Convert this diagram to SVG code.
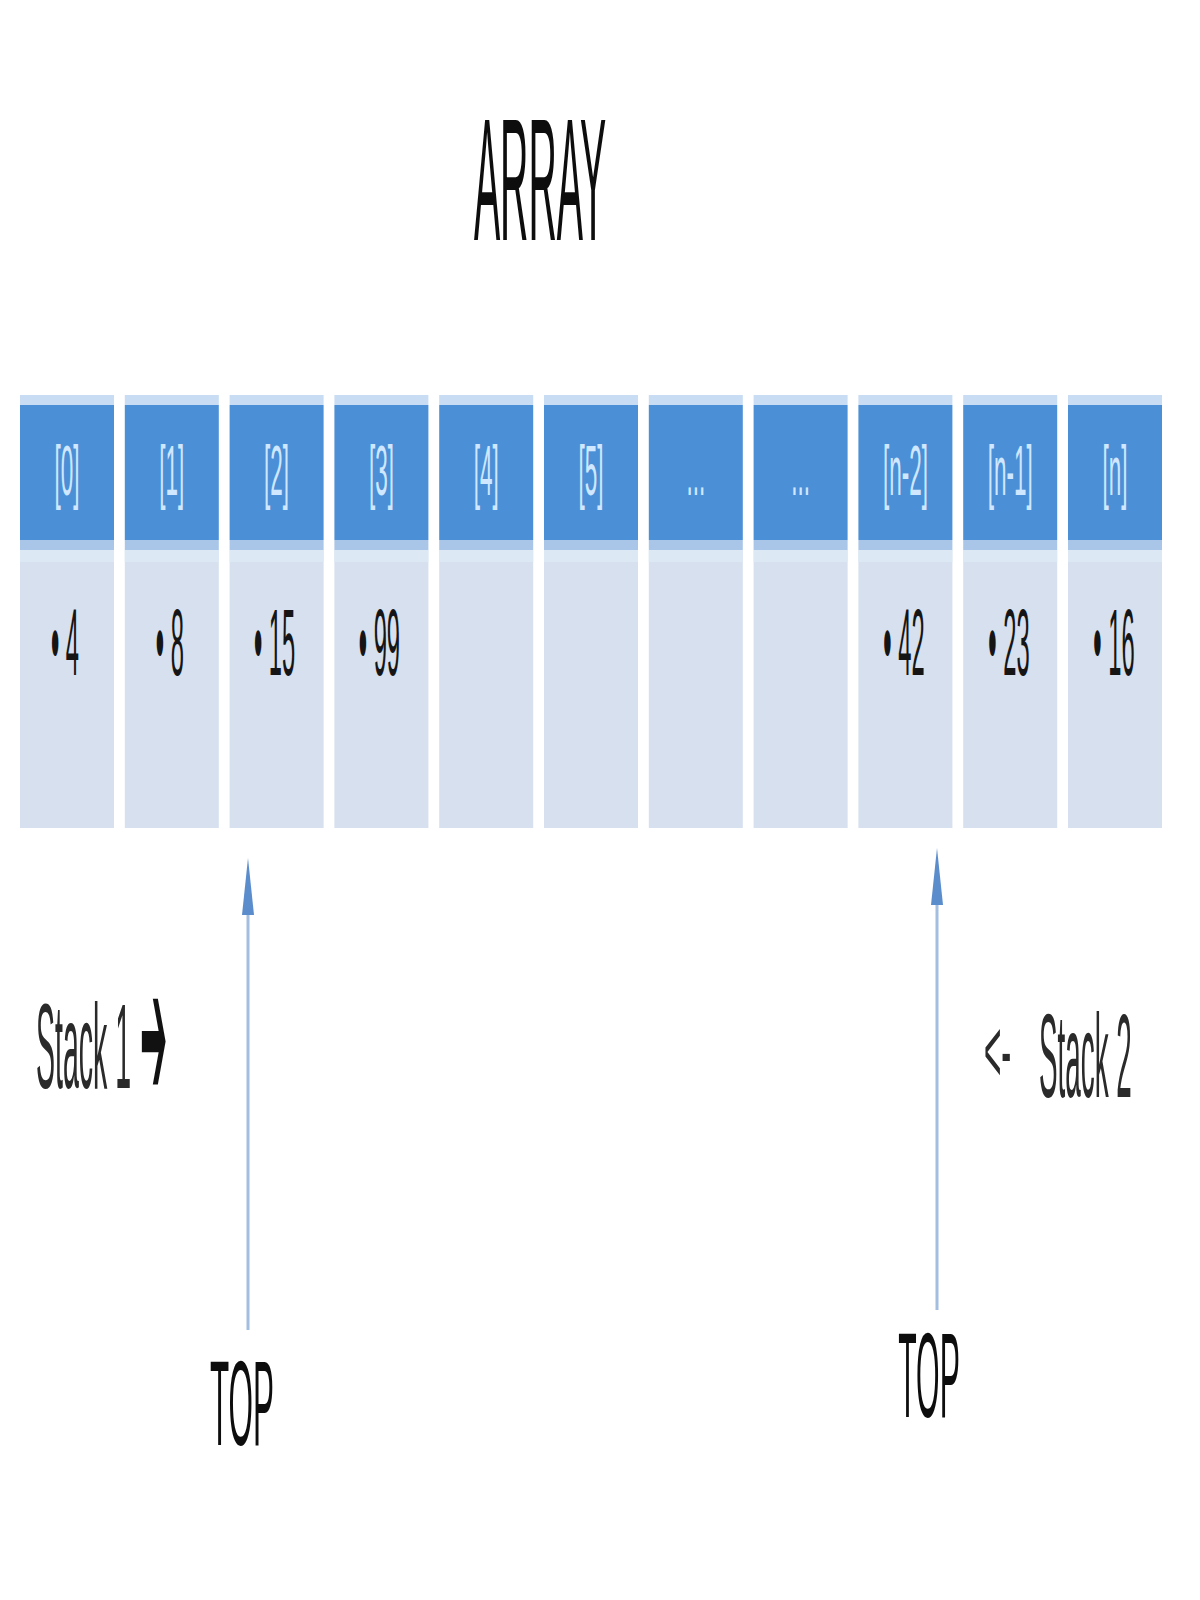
<svg xmlns="http://www.w3.org/2000/svg" width="1200" height="1600" viewBox="0 0 1200 1600">
<style>
text{font-family:"Liberation Sans",Arial,sans-serif}
.strip{fill:#c8ddf4}
.head{fill:#4b8fd6}
.strip2{fill:#a9c6e8}
.body{fill:#d6e0ee}
.bodytop{fill:#dde8f5}
.hl{font-size:71px;fill:#cfe7ff;text-anchor:middle}
.val{font-size:95px;fill:#151515;text-anchor:middle}
.big{fill:#0d0d0d;text-anchor:middle}
.lbl{fill:#2a2a2a}
.arrowglyph{font-family:"DejaVu Sans",sans-serif;fill:#111111}
.line{stroke:#a3bedf;stroke-width:3;fill:none}
</style>
<defs>
<marker id="head" markerUnits="userSpaceOnUse" markerWidth="57" markerHeight="12" refX="0" refY="6" orient="auto">
<path d="M0,0 L57,6 L0,12 z" fill="#5b8ccb"/>
</marker>
</defs>
<rect width="1200" height="1600" fill="#ffffff"/>
<g id="title"><text class="big" font-size="175" transform="translate(540,240) scale(0.224,1)">ARRAY</text></g>

<g id="cell-0"><rect class="strip" x="20" y="395" width="94" height="10"/><rect class="head" x="20" y="405" width="94" height="135"/><rect class="strip2" x="20" y="540" width="94" height="10"/><rect class="body" x="20" y="550" width="94" height="278"/><rect class="bodytop" x="20" y="550" width="94" height="12"/><text class="hl" transform="translate(67,495) scale(0.317,1)">[0]</text><text class="val" transform="translate(65,675) scale(0.25,1)">• 4</text></g>
<g id="cell-1"><rect class="strip" x="124.8" y="395" width="94" height="10"/><rect class="head" x="124.8" y="405" width="94" height="135"/><rect class="strip2" x="124.8" y="540" width="94" height="10"/><rect class="body" x="124.8" y="550" width="94" height="278"/><rect class="bodytop" x="124.8" y="550" width="94" height="12"/><text class="hl" transform="translate(171.8,495) scale(0.317,1)">[1]</text><text class="val" transform="translate(169.8,675) scale(0.25,1)">• 8</text></g>
<g id="cell-2"><rect class="strip" x="229.6" y="395" width="94" height="10"/><rect class="head" x="229.6" y="405" width="94" height="135"/><rect class="strip2" x="229.6" y="540" width="94" height="10"/><rect class="body" x="229.6" y="550" width="94" height="278"/><rect class="bodytop" x="229.6" y="550" width="94" height="12"/><text class="hl" transform="translate(276.6,495) scale(0.317,1)">[2]</text><text class="val" transform="translate(274.6,675) scale(0.25,1)">• 15</text></g>
<g id="cell-3"><rect class="strip" x="334.4" y="395" width="94" height="10"/><rect class="head" x="334.4" y="405" width="94" height="135"/><rect class="strip2" x="334.4" y="540" width="94" height="10"/><rect class="body" x="334.4" y="550" width="94" height="278"/><rect class="bodytop" x="334.4" y="550" width="94" height="12"/><text class="hl" transform="translate(381.4,495) scale(0.317,1)">[3]</text><text class="val" transform="translate(379.4,675) scale(0.25,1)">• 99</text></g>
<g id="cell-4"><rect class="strip" x="439.2" y="395" width="94" height="10"/><rect class="head" x="439.2" y="405" width="94" height="135"/><rect class="strip2" x="439.2" y="540" width="94" height="10"/><rect class="body" x="439.2" y="550" width="94" height="278"/><rect class="bodytop" x="439.2" y="550" width="94" height="12"/><text class="hl" transform="translate(486.2,495) scale(0.317,1)">[4]</text></g>
<g id="cell-5"><rect class="strip" x="544" y="395" width="94" height="10"/><rect class="head" x="544" y="405" width="94" height="135"/><rect class="strip2" x="544" y="540" width="94" height="10"/><rect class="body" x="544" y="550" width="94" height="278"/><rect class="bodytop" x="544" y="550" width="94" height="12"/><text class="hl" transform="translate(591,495) scale(0.317,1)">[5]</text></g>
<g id="cell-6"><rect class="strip" x="648.8" y="395" width="94" height="10"/><rect class="head" x="648.8" y="405" width="94" height="135"/><rect class="strip2" x="648.8" y="540" width="94" height="10"/><rect class="body" x="648.8" y="550" width="94" height="278"/><rect class="bodytop" x="648.8" y="550" width="94" height="12"/><text class="hl" transform="translate(695.8,495) scale(0.317,1)">...</text></g>
<g id="cell-7"><rect class="strip" x="753.6" y="395" width="94" height="10"/><rect class="head" x="753.6" y="405" width="94" height="135"/><rect class="strip2" x="753.6" y="540" width="94" height="10"/><rect class="body" x="753.6" y="550" width="94" height="278"/><rect class="bodytop" x="753.6" y="550" width="94" height="12"/><text class="hl" transform="translate(800.6,495) scale(0.317,1)">...</text></g>
<g id="cell-8"><rect class="strip" x="858.4" y="395" width="94" height="10"/><rect class="head" x="858.4" y="405" width="94" height="135"/><rect class="strip2" x="858.4" y="540" width="94" height="10"/><rect class="body" x="858.4" y="550" width="94" height="278"/><rect class="bodytop" x="858.4" y="550" width="94" height="12"/><text class="hl" transform="translate(905.4,495) scale(0.317,1)">[n-2]</text><text class="val" transform="translate(904,675) scale(0.25,1)">• 42</text></g>
<g id="cell-9"><rect class="strip" x="963.2" y="395" width="94" height="10"/><rect class="head" x="963.2" y="405" width="94" height="135"/><rect class="strip2" x="963.2" y="540" width="94" height="10"/><rect class="body" x="963.2" y="550" width="94" height="278"/><rect class="bodytop" x="963.2" y="550" width="94" height="12"/><text class="hl" transform="translate(1010.2,495) scale(0.317,1)">[n-1]</text><text class="val" transform="translate(1009,675) scale(0.25,1)">• 23</text></g>
<g id="cell-10"><rect class="strip" x="1068" y="395" width="94" height="10"/><rect class="head" x="1068" y="405" width="94" height="135"/><rect class="strip2" x="1068" y="540" width="94" height="10"/><rect class="body" x="1068" y="550" width="94" height="278"/><rect class="bodytop" x="1068" y="550" width="94" height="12"/><text class="hl" transform="translate(1115,495) scale(0.317,1)">[n]</text><text class="val" transform="translate(1114,675) scale(0.25,1)">• 16</text></g>

<g id="connectors">
<line class="line" x1="248" y1="1330" x2="248" y2="915" marker-end="url(#head)"/>
<line class="line" x1="937" y1="1310" x2="937" y2="905" marker-end="url(#head)"/>
</g>

<g id="stack1-label">
<text class="lbl" font-size="120" transform="translate(36,1088) scale(0.2375,1)">Stack 1</text>
<text class="arrowglyph" font-size="180" transform="translate(140,1098) scale(0.18,1)">➔</text>
</g>
<g id="stack2-label">
<text class="lbl" font-size="90" transform="translate(984,1082) scale(0.33,1)">&lt;-</text>
<text class="lbl" font-size="119" transform="translate(1039,1097) scale(0.234,1)">Stack 2</text>
</g>
<g id="top-left"><text class="big" font-size="121" transform="translate(242,1445) scale(0.26,1)">TOP</text></g>
<g id="top-right"><text class="big" font-size="121" transform="translate(929,1417) scale(0.25,1)">TOP</text></g>
</svg>
